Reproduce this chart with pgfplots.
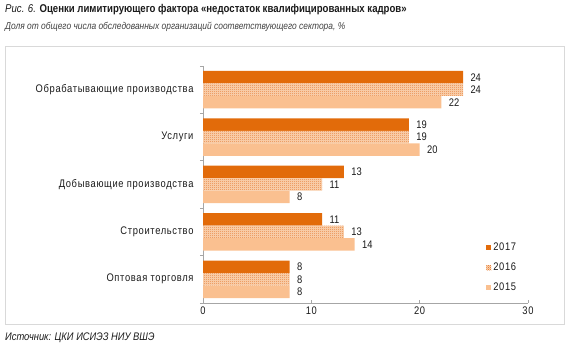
\documentclass[border=0pt]{standalone}
\usepackage{fontspec}
\setmainfont{Liberation Sans}[FakeStretch=0.85]
\newfontfamily\lab{Liberation Sans}[FakeStretch=0.85, LetterSpace=6]
\usepackage{pgfplots}
\pgfplotsset{compat=1.18}
\usetikzlibrary{patterns}
\pgfdeclarepatternformonly{checks}{\pgfpointorigin}{\pgfqpoint{2pt}{2pt}}{\pgfqpoint{2pt}{2pt}}{%
  \pgfpathrectangle{\pgfpointorigin}{\pgfqpoint{1pt}{1pt}}%
  \pgfpathrectangle{\pgfqpoint{1pt}{1pt}}{\pgfqpoint{1pt}{1pt}}%
  \pgfusepath{fill}}
\definecolor{c17}{HTML}{E26B0A}
\definecolor{c16}{HTML}{FBD6B6}
\definecolor{c16d}{HTML}{E7813A}
\definecolor{c15}{HTML}{FAC090}
\definecolor{axgrey}{HTML}{A6A6A6}
\definecolor{frame}{HTML}{D9D9D9}
\definecolor{txt}{HTML}{1A1A1A}
\begin{document}
\begin{tikzpicture}
\begin{scope}[x=1pt,y=1pt]
\path[use as bounding box] (0,0) rectangle (573,351);
\draw[frame, line width=1pt] (5,304) rectangle (564,27);
\node[anchor=west, inner sep=0, font=\fontsize{11.3}{13}\selectfont, txt] at (5,341) {\textit{Рис. 6.} \textbf{Оценки лимитирующего фактора «недостаток квалифицированных кадров»}};
\node[anchor=west, inner sep=0, font=\fontsize{9.9}{12}\selectfont\itshape, black!75] at (5,324) {Доля от общего числа обследованных организаций соответствующего сектора, \%};
\node[anchor=west, inner sep=0, font=\fontsize{11}{13}\selectfont\itshape, txt] at (5,13) {Источник: ЦКИ ИСИЭЗ НИУ ВШЭ};
\end{scope}
\begin{axis}[
  at={(203pt,48pt)}, anchor=south west,
  scale only axis, width=325pt, height=237pt,
  xbar, bar width=12.5pt,
  xmin=0, xmax=30, ymin=-0.5, ymax=4.5,
  xtick={0,10,20,30},
  ytick={0,1,2,3,4},
  yticklabels={Оптовая торговля, Строительство, Добывающие производства, Услуги, Обрабатывающие производства},
  minor ytick={-0.5,0.5,1.5,2.5,3.5,4.5},
  axis x line*=bottom, axis y line*=left,
  axis line style={axgrey, line width=0.6pt},
  every tick/.style={axgrey, line width=0.6pt},
  major tick length=3pt, minor tick length=3pt,
  y tick style={draw=none},
  minor y tick style={draw=axgrey},
  xtick align=inside,
  ytick align=outside,
  tick label style={font=\lab\fontsize{11}{13}\selectfont, txt},
  yticklabel style={xshift=-3pt},
  /pgf/number format/assume math mode=true,
  nodes near coords,
  every node near coord/.append style={font=\fontsize{11}{13}\selectfont, txt, xshift=4pt},
  legend style={at={(rel axis cs:0.862,0.272)}, anchor=north west, draw=none, fill=none,
    font=\lab\fontsize{11}{13}\selectfont, row sep=7pt, text=txt},
  legend cell align=left,
  legend image code/.code={\fill[#1] (0pt,-2.5pt) rectangle (5pt,2.5pt);},
]
\addplot[draw=none, fill=c17, bar shift=12.5pt] coordinates {(24,4) (19,3) (13,2) (11,1) (8,0)};
\addlegendentry{2017}
\addplot[draw=none, fill=c16, postaction={pattern=checks, pattern color=c16d}, bar shift=0pt] coordinates {(24,4) (19,3) (11,2) (13,1) (8,0)};
\addlegendentry{2016}
\addplot[draw=none, fill=c15, bar shift=-12.5pt] coordinates {(22,4) (20,3) (8,2) (14,1) (8,0)};
\addlegendentry{2015}
\end{axis}
\end{tikzpicture}
\end{document}
